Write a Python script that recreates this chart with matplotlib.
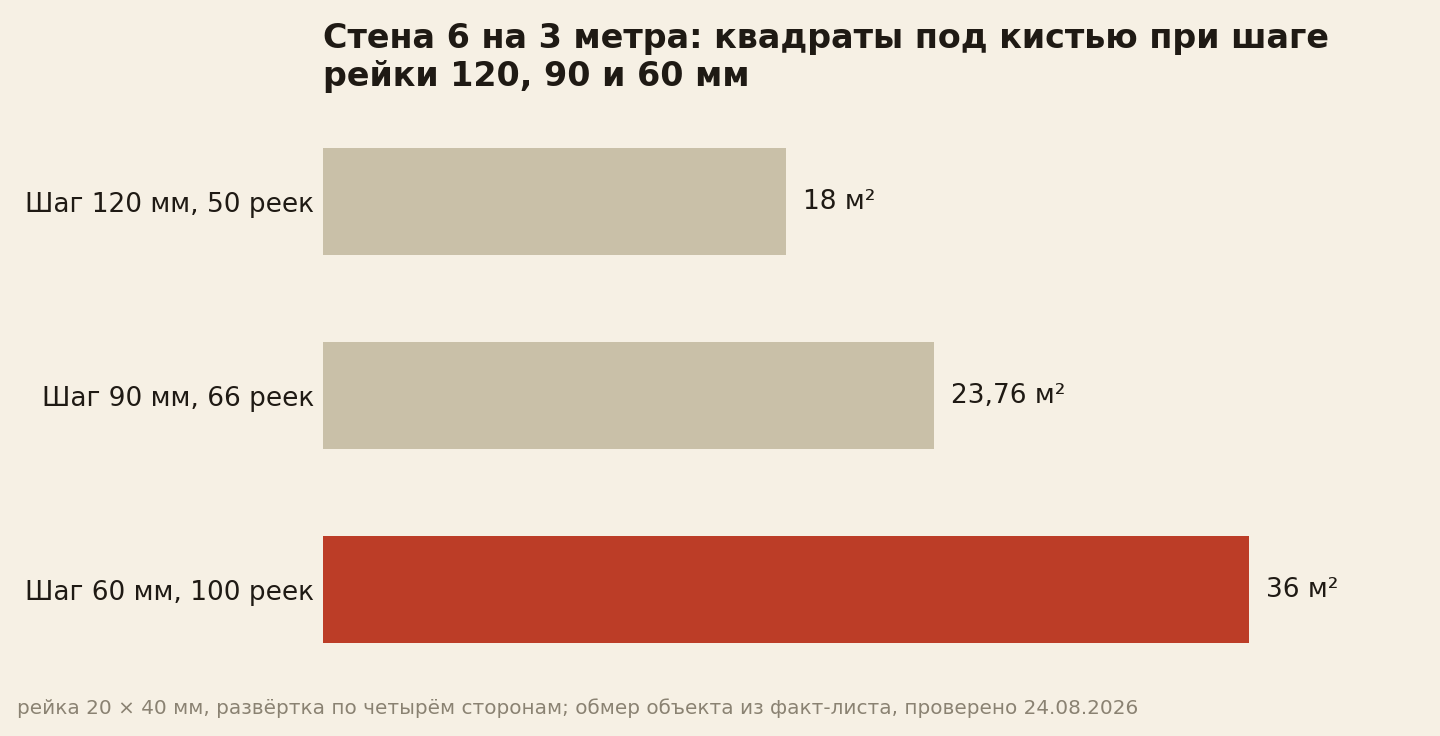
import matplotlib
matplotlib.use('Agg')
import matplotlib.pyplot as plt

# данные
labels = ['Шаг 120 мм, 50 реек', 'Шаг 90 мм, 66 реек', 'Шаг 60 мм, 100 реек']
values = [18, 23.76, 36]
value_text = ['18 м²', '23,76 м²', '36 м²']
colors = ['#c9c0a8', '#c9c0a8', '#bc3d27']

bg = '#f6f0e4'
ink = '#1f1a14'

fig = plt.figure(figsize=(14.4, 7.36), dpi=100, facecolor=bg)
ax = fig.add_axes([323 / 1440, 0.0936, 1080 / 1440, 0.738])
ax.set_facecolor(bg)

y = list(range(len(values)))
ax.barh(y, values, height=0.55, color=colors)
ax.set_ylim(2.4, -0.4)
ax.set_xlim(0, 42)

# подписи значений
for yi, v, t in zip(y, values, value_text):
    ax.text(v + 0.66, yi, t, va='center', ha='left', fontsize=19, color=ink)

ax.set_yticks(y)
ax.set_yticklabels(labels, fontsize=19, color=ink)
ax.tick_params(axis='y', length=0, pad=6.5)
ax.set_xticks([])
for s in ax.spines.values():
    s.set_visible(False)

# заголовок
fig.text(323 / 1440, 1 - 22 / 736, 'Стена 6 на 3 метра: квадраты под кистью при шаге\nрейки 120, 90 и 60 мм',
         ha='left', va='top', fontsize=24, fontweight='bold', color=ink, linespacing=1.2)

# примечание
fig.text(17 / 1440, 1 - 708 / 736,
         'рейка 20 × 40 мм, развёртка по четырём сторонам; обмер объекта из факт-листа, проверено 24.08.2026',
         ha='left', va='center', fontsize=14.4, color='#8a8272')

plt.savefig('out.png', dpi=100, facecolor=bg)
plt.close()
